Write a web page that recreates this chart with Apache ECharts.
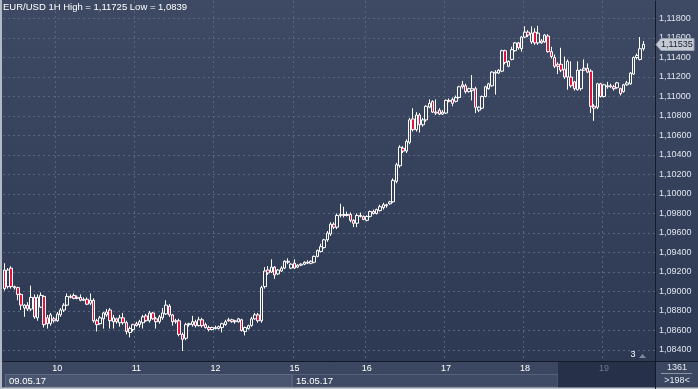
<!DOCTYPE html>
<html><head><meta charset="utf-8">
<script src="https://cdn.jsdelivr.net/npm/echarts@6/dist/echarts.min.js"></script>
<style>html,body{margin:0;padding:0;background:#2f3b56;}#c{width:698px;height:389px;}</style>
</head><body><div id="c"></div>
<script>
const titleText = 'EUR/USD 1H High = 1,11725 Low = 1,0839';
const days = ['09', '10', '11', '12', '15', '16', '17', '18', '19'];
const dayTickLabels = ['', '10', '11', '12', '15', '16', '17', '18', '19'];
const hoursPerDay = [16, 24, 24, 24, 22, 24, 24, 24, 13];
const firstHour = [8, 0, 0, 0, 2, 0, 0, 0, 0];
const emptySlots = 3;
const dateBoxLabels = ['09.05.17', '15.05.17'];
const barCountText = '1361';
const visibleBarsText = '>198<';
const markerText = '3';

const openP = [
1.0922,1.0905,1.0924,1.0905,1.0904,1.0897,1.0883,1.0886,1.0882,1.0894,
1.0873,1.0884,1.0895,1.0873,1.0867,1.0872,1.0870,1.0876,1.0881,1.0886,
1.0895,1.0896,1.0893,1.0894,1.0891,1.0892,1.0888,1.0891,1.0870,1.0867,
1.0872,1.0876,1.0881,1.0869,1.0872,1.0868,1.0873,1.0868,1.0858,1.0861,
1.0867,1.0866,1.0868,1.0875,1.0870,1.0878,1.0872,1.0869,1.0873,1.0877,
1.0885,1.0876,1.0869,1.0870,1.0856,1.0852,1.0866,1.0866,1.0869,1.0865,
1.0871,1.0866,1.0863,1.0861,1.0863,1.0862,1.0863,1.0866,1.0870,1.0871,
1.0869,1.0869,1.0871,1.0859,1.0862,1.0865,1.0872,1.0876,1.0870,1.0905,
1.0922,1.0920,1.0925,1.0918,1.0921,1.0924,1.0931,1.0924,1.0929,1.0925,
1.0927,1.0928,1.0930,1.0929,1.0930,1.0936,1.0941,1.0945,1.0953,1.0959,
1.0969,1.0966,1.0978,1.0979,1.0978,1.0979,1.0973,1.0970,1.0978,1.0977,
1.0973,1.0977,1.0982,1.0980,1.0983,1.0986,1.0989,1.0990,1.0992,1.1013,
1.1029,1.1047,1.1044,1.1053,1.1077,1.1066,1.1081,1.1071,1.1076,1.1089,
1.1095,1.1084,1.1086,1.1082,1.1083,1.1096,1.1097,1.1095,1.1099,1.1112,
1.1111,1.1105,1.1106,1.1108,1.1086,1.1088,1.1100,1.1108,1.1111,1.1125,
1.1124,1.1126,1.1147,1.1131,1.1138,1.1147,1.1155,1.1149,1.1161,1.1166,
1.1156,1.1166,1.1155,1.1157,1.1156,1.1162,1.1146,1.1140,1.1133,1.1133,
1.1128,1.1120,1.1120,1.1115,1.1107,1.1108,1.1127,1.1129,1.1126,1.1090,
1.1089,1.1113,1.1100,1.1111,1.1110,1.1110,1.1109,1.1108,1.1105,1.1112,
1.1113,1.1123,1.1140,1.1138,1.1149
];
const highP = [
1.0929,1.0924,1.0926,1.0906,1.0905,1.0898,1.0887,1.0889,1.0906,1.0897,
1.0897,1.0899,1.0896,1.0876,1.0878,1.0874,1.0879,1.0883,1.0888,1.0898,
1.0897,1.0898,1.0896,1.0897,1.0894,1.0894,1.0898,1.0893,1.0872,1.0875,
1.0879,1.0882,1.0883,1.0876,1.0873,1.0876,1.0878,1.0870,1.0864,1.0867,
1.0869,1.0871,1.0876,1.0877,1.0880,1.0879,1.0874,1.0876,1.0883,1.0891,
1.0887,1.0877,1.0872,1.0872,1.0858,1.0868,1.0868,1.0875,1.0871,1.0874,
1.0873,1.0868,1.0865,1.0864,1.0865,1.0865,1.0868,1.0871,1.0873,1.0872,
1.0871,1.0873,1.0872,1.0864,1.0866,1.0874,1.0878,1.0878,1.0906,1.0925,
1.0926,1.0933,1.0926,1.0923,1.0926,1.0932,1.0934,1.0929,1.0933,1.0928,
1.0929,1.0931,1.0932,1.0932,1.0937,1.0943,1.0949,1.0954,1.0962,1.0971,
1.0971,1.0980,1.0990,1.0987,1.0982,1.0981,1.0974,1.0980,1.0981,1.0978,
1.0978,1.0983,1.0984,1.0985,1.0989,1.0991,1.0990,1.0993,1.1016,1.1032,
1.1050,1.1049,1.1056,1.1078,1.1088,1.1084,1.1083,1.1078,1.1091,1.1097,
1.1096,1.1097,1.1088,1.1086,1.1097,1.1098,1.1099,1.1101,1.1111,1.1116,
1.1113,1.1109,1.1122,1.1110,1.1090,1.1101,1.1111,1.1114,1.1126,1.1127,
1.1128,1.1148,1.1148,1.1137,1.1151,1.1156,1.1156,1.1162,1.1172,1.1168,
1.1172,1.1170,1.11725,1.1159,1.1164,1.1164,1.1151,1.1143,1.1135,1.1150,
1.1141,1.1138,1.1136,1.1116,1.1136,1.1128,1.1138,1.1134,1.1128,1.1092,
1.1114,1.1114,1.1113,1.1115,1.1113,1.1112,1.1115,1.1109,1.1113,1.1116,
1.1125,1.1141,1.1144,1.1161,1.1157
];
const lowP = [
1.0901,1.0903,1.0903,1.0902,1.0891,1.0881,1.0874,1.0880,1.0880,1.0872,
1.0870,1.0883,1.0863,1.0862,1.0865,1.0868,1.0869,1.0874,1.0879,1.0885,
1.0893,1.0892,1.0892,1.0890,1.0890,1.0886,1.0886,1.0868,1.0859,1.0866,
1.0862,1.0874,1.0862,1.0862,1.0867,1.0864,1.0866,1.0856,1.0853,1.0859,
1.0864,1.0863,1.0862,1.0869,1.0868,1.0871,1.0862,1.0867,1.0871,1.0876,
1.0874,1.0865,1.0867,1.0854,1.0839,1.0850,1.0864,1.0864,1.0863,1.0864,
1.0863,1.0862,1.0859,1.0860,1.0861,1.0861,1.0858,1.0865,1.0869,1.0868,
1.0867,1.0868,1.0859,1.0855,1.0861,1.0864,1.0871,1.0868,1.0868,1.0903,
1.0917,1.0919,1.0913,1.0917,1.0920,1.0923,1.0928,1.0923,1.0923,1.0924,
1.0926,1.0927,1.0928,1.0928,1.0929,1.0935,1.0940,1.0944,1.0951,1.0957,
1.0964,1.0964,1.0976,1.0976,1.0977,1.0971,1.0966,1.0966,1.0976,1.0973,
1.0972,1.0976,1.0979,1.0979,1.0982,1.0984,1.0986,1.0989,1.0991,1.1011,
1.1027,1.1042,1.1042,1.1051,1.1064,1.1064,1.1063,1.1069,1.1074,1.1088,
1.1083,1.1081,1.1081,1.1081,1.1082,1.1094,1.1090,1.1094,1.1098,1.1108,
1.1103,1.1104,1.1096,1.1083,1.1084,1.1087,1.1099,1.1107,1.1110,1.1102,
1.1123,1.1125,1.1133,1.1130,1.1137,1.1146,1.1148,1.1146,1.1160,1.1161,
1.1154,1.1153,1.1153,1.1154,1.1155,1.1145,1.1139,1.1129,1.1123,1.1125,
1.1118,1.1107,1.1109,1.1106,1.1106,1.1106,1.1126,1.1124,1.1083,1.1075,
1.1087,1.1099,1.1099,1.1108,1.1109,1.1106,1.1108,1.1101,1.1104,1.1111,
1.1112,1.1122,1.1138,1.1137,1.1147
];
const closeP = [
1.0903,1.0922,1.0905,1.0904,1.0897,1.0886,1.0886,1.0882,1.0894,1.0874,
1.0894,1.0896,1.0866,1.0867,1.0876,1.0870,1.0877,1.0881,1.0886,1.0895,
1.0894,1.0893,1.0894,1.0891,1.0892,1.0887,1.0891,1.0870,1.0866,1.0873,
1.0878,1.0879,1.0870,1.0873,1.0869,1.0873,1.0868,1.0859,1.0862,1.0866,
1.0865,1.0869,1.0874,1.0870,1.0878,1.0872,1.0869,1.0874,1.0878,1.0886,
1.0876,1.0869,1.0870,1.0856,1.0851,1.0866,1.0867,1.0869,1.0865,1.0871,
1.0865,1.0863,1.0861,1.0863,1.0862,1.0864,1.0867,1.0869,1.0871,1.0869,
1.0870,1.0872,1.0860,1.0863,1.0865,1.0872,1.0876,1.0870,1.0904,1.0921,
1.0919,1.0925,1.0917,1.0922,1.0924,1.0931,1.0930,1.0928,1.0924,1.0927,
1.0928,1.0930,1.0929,1.0931,1.0936,1.0942,1.0946,1.0953,1.0960,1.0969,
1.0966,1.0978,1.0979,1.0978,1.0979,1.0973,1.0970,1.0978,1.0977,1.0974,
1.0977,1.0982,1.0980,1.0984,1.0987,1.0989,1.0988,1.0992,1.1014,1.1030,
1.1048,1.1044,1.1054,1.1076,1.1066,1.1081,1.1071,1.1076,1.1090,1.1093,
1.1084,1.1083,1.1082,1.1084,1.1096,1.1095,1.1093,1.1099,1.1110,1.1110,
1.1105,1.1108,1.1108,1.1089,1.1089,1.1100,1.1110,1.1113,1.1125,1.1124,
1.1127,1.1147,1.1135,1.1136,1.1148,1.1155,1.1150,1.1161,1.1166,1.1163,
1.1165,1.1155,1.1165,1.1155,1.1163,1.1146,1.1141,1.1131,1.1131,1.1127,
1.1120,1.1136,1.1111,1.1108,1.1127,1.1127,1.1129,1.1125,1.1090,1.1088,
1.1113,1.1100,1.1112,1.1110,1.1111,1.1108,1.1114,1.1103,1.1112,1.1114,
1.1124,1.1140,1.1142,1.1149,1.11535
];

// ---- build categories ----
const categories = [];
const dayStartIdx = [];
days.forEach(function (d, i) {
  dayStartIdx.push(categories.length);
  for (let h = 0; h < hoursPerDay[i]; h++) {
    categories.push(d + '.05 ' + String(firstHour[i] + h).padStart(2, '0') + ':00');
  }
});
for (let i = 0; i < emptySlots; i++) categories.push('');
const labelAt = {};
dayStartIdx.forEach(function (idx, i) { if (dayTickLabels[i]) labelAt[idx] = dayTickLabels[i]; });
const dimLabelIdx = dayStartIdx[dayStartIdx.length - 1];
const candles = openP.map(function (o, i) { return [o, closeP[i], lowP[i], highP[i]]; });
const lastClose = closeP[closeP.length - 1];
const fmt = function (v) { return v.toFixed(5).replace('.', ','); };

const FONT = '"Liberation Sans", Arial, sans-serif';
const chart = echarts.init(document.getElementById('c'), null, { renderer: 'canvas' });

function txt(id, x, y, text, fill, size, align, z) {
  return { type: 'text', id: id, z: z || 50, silent: true, x: x, y: y,
    style: { text: text, fill: fill, font: size + 'px ' + FONT, textAlign: align, align: align, textVerticalAlign: 'middle', verticalAlign: 'middle' } };
}

chart.setOption({
  animation: false,
  backgroundColor: new echarts.graphic.LinearGradient(0, 0, 0, 1, [
    { offset: 0, color: '#3e4a64' },
    { offset: 1, color: '#2c3852' }
  ]),
  textStyle: { fontFamily: FONT },
  title: {
    text: titleText, left: 3, top: 2, padding: 0,
    textStyle: { color: '#ffffff', fontSize: 9.5, fontWeight: 'normal', fontFamily: FONT }
  },
  grid: { left: 3, right: 43, top: 1, bottom: 28, containLabel: false },
  xAxis: {
    type: 'category',
    data: categories,
    boundaryGap: true,
    axisLine: { show: true, lineStyle: { color: '#141a27', width: 1 } },
    axisTick: { show: false },
    axisLabel: {
      show: true,
      interval: function (index) { return labelAt[index] !== undefined; },
      formatter: function (v, index) {
        const t = labelAt[index] || '';
        return index === dimLabelIdx ? '{dim|' + t + '}' : t;
      },
      color: '#ffffff', fontSize: 9, margin: 3, fontFamily: FONT,
      rich: { dim: { color: '#6d7892', fontSize: 9, fontFamily: FONT } }
    },
    splitLine: {
      show: true,
      interval: function (index) { return index > 0 && dayStartIdx.indexOf(index) >= 0; },
      lineStyle: { color: '#58647e', type: [2, 3], width: 1 }
    }
  },
  yAxis: {
    type: 'value',
    position: 'right',
    min: 1.082872,
    max: 1.119795,
    splitNumber: 18,
    minInterval: 0.002,
    maxInterval: 0.002,
    scale: true,
    axisLine: { show: true, lineStyle: { color: '#141a27', width: 1 } },
    axisTick: { show: false },
    axisLabel: {
      color: '#dfe5ee', fontSize: 9, margin: 4, fontFamily: FONT,
      showMinLabel: false, showMaxLabel: false,
      formatter: fmt
    },
    splitLine: {
      show: true, showMinLine: false, showMaxLine: false,
      lineStyle: { color: '#58647e', type: [2, 3], width: 1 }
    }
  },
  series: [{
    type: 'candlestick',
    data: candles,
    barWidth: 3,
    itemStyle: {
      color: 'rgba(0,0,0,0)',
      color0: '#e3143c',
      borderColor: '#ffffff',
      borderColor0: '#ffffff',
      borderWidth: 1
    }
  }],
  graphic: {
    elements: [
      { type: 'rect', id: 'bgBottom', z: -10, silent: true, shape: { x: 0, y: 361.5, width: 698, height: 27.5 }, style: { fill: '#3b4761' } },
      { type: 'rect', id: 'box1', z: -9, silent: true, shape: { x: 5.5, y: 374.5, width: 286.5, height: 12.5 }, style: { fill: '#4a566f', stroke: '#5e6a83', lineWidth: 1 } },
      { type: 'rect', id: 'box2', z: -9, silent: true, shape: { x: 292.5, y: 374.5, width: 265.5, height: 12.5 }, style: { fill: '#3f4b65', stroke: '#56627b', lineWidth: 1 } },
      { type: 'rect', id: 'darkPanel', z: -8, silent: true, shape: { x: 558, y: 362, width: 97, height: 25.5 }, style: { fill: '#263049' } },
      { type: 'rect', id: 'bottomBorder', z: 50, silent: true, shape: { x: 0, y: 387.5, width: 698, height: 1.5 }, style: { fill: '#c3c8d1' } },
      { type: 'rect', id: 'leftBorder', z: 50, silent: true, shape: { x: 0, y: 0, width: 2, height: 389 }, style: { fill: '#b3bac6' } },
      { type: 'line', id: 'vline', z: 50, silent: true, shape: { x1: 655.5, y1: 361, x2: 655.5, y2: 389 }, style: { stroke: '#141a27', lineWidth: 1 } },
      { type: 'line', id: 'hline', z: 50, silent: true, shape: { x1: 656, y1: 361.5, x2: 698, y2: 361.5 }, style: { stroke: '#141a27', lineWidth: 1 } },
      { type: 'line', id: 'uline', z: 50, silent: true, shape: { x1: 661, y1: 373.5, x2: 692, y2: 373.5 }, style: { stroke: '#8a94a7', lineWidth: 1 } },
      txt('d1', 9, 381, dateBoxLabels[0], '#ffffff', 9.5, 'left'),
      txt('d2', 296, 381, dateBoxLabels[1], '#ffffff', 9.5, 'left'),
      txt('cnt', 677, 367.5, barCountText, '#e6ebf2', 9, 'center'),
      txt('vis', 677, 380.5, visibleBarsText, '#e6ebf2', 9, 'center'),
      txt('mk', 633, 355, markerText, '#ffffff', 9, 'center'),
      { type: 'polygon', id: 'mkTri', z: 50, silent: true, shape: { points: [[639, 358], [642.5, 354], [646, 358]] }, style: { fill: '#7d879b' } }
    ]
  }
});

// price tag for the last close, placed through the y axis scale
const py = Math.round(chart.convertToPixel({ yAxisIndex: 0 }, lastClose)) + 0.5;
chart.setOption({
  graphic: {
    elements: [
      { type: 'polygon', id: 'tagShape', z: 60, silent: true,
        shape: { points: [[656, py], [661, py - 6], [694, py - 6], [694, py + 6], [661, py + 6]] },
        style: { fill: '#c4cad3', stroke: '#9aa3b1', lineWidth: 1 } },
      txt('tagText', 661, py + 0.5, fmt(lastClose), '#18202f', 9, 'left', 70)
    ]
  }
});
</script>
</body></html>
